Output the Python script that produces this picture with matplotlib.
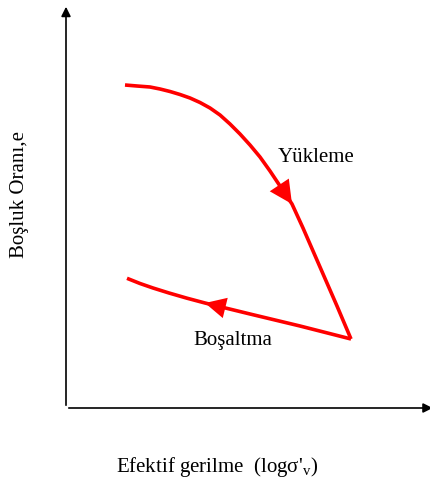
import matplotlib
matplotlib.use("Agg")
import matplotlib.pyplot as plt

plt.rcParams['font.family'] = ['Liberation Serif', 'DejaVu Serif']
plt.rcParams['mathtext.fontset'] = 'custom'
plt.rcParams['mathtext.rm'] = 'Liberation Serif'

# Yükleme (loading) curve: log stress vs void ratio (arbitrary units)
load_x = [0.59, 0.71, 0.84, 0.94, 1.04, 1.14, 1.24, 1.34, 1.44, 1.54, 1.64, 1.74, 1.84, 1.94,
          2.04, 2.14, 2.26, 2.37, 2.54, 2.71, 2.85]
load_e = [3.23, 3.22, 3.21, 3.19, 3.165, 3.135, 3.10, 3.055, 3.00, 2.93, 2.84, 2.74, 2.63, 2.51,
          2.37, 2.22, 2.04, 1.80, 1.41, 1.02, 0.69]

# Boşaltma (unloading) curve
unload_x = [2.85, 2.34, 1.84, 1.39, 1.21, 1.03, 0.87, 0.74, 0.61]
unload_e = [0.69, 0.82, 0.94, 1.05, 1.098, 1.15, 1.20, 1.245, 1.297]

labels = {"load": "Yükleme", "unload": "Boşaltma"}
xlabel = "Efektif gerilme  (logσ'$_\\mathrm{v}$)"
ylabel = "Boşluk Oranı,e"

fig = plt.figure(figsize=(4.30, 4.85), dpi=100)
ax = fig.add_axes([66 / 430, 76 / 485, 364 / 430, 404 / 485])
ax.set_xlim(0, 3.64)
ax.set_ylim(0, 4.04)
for s in ax.spines.values():
    s.set_visible(False)
ax.set_xticks([])
ax.set_yticks([])

# axes with arrow heads
ax.annotate('', xy=(0, 1.0), xytext=(0, 0), xycoords='axes fraction',
            arrowprops=dict(arrowstyle='-|>', color='black', lw=1.2, mutation_scale=14),
            annotation_clip=False)
ax.annotate('', xy=(1.015, 0), xytext=(0, 0), xycoords='axes fraction',
            arrowprops=dict(arrowstyle='-|>', color='black', lw=1.2, mutation_scale=14),
            annotation_clip=False)

red = '#ff0000'
ax.plot(load_x, load_e, color=red, lw=2.6, solid_capstyle='butt', solid_joinstyle='round')
ax.plot(unload_x, unload_e, color=red, lw=2.6, solid_capstyle='butt', solid_joinstyle='round')

# direction arrowheads
head = '-|>,head_length=0.5,head_width=0.25'
ax.annotate('', xy=(load_x[16], load_e[16]), xytext=(load_x[14], load_e[14]),
            arrowprops=dict(arrowstyle=head, color=red, lw=0, mutation_scale=33,
                            shrinkA=0, shrinkB=0))
ax.annotate('', xy=(unload_x[3], unload_e[3]), xytext=(unload_x[2], unload_e[2]),
            arrowprops=dict(arrowstyle=head, color=red, lw=0, mutation_scale=30,
                            shrinkA=0, shrinkB=0))

ax.text(2.50, 2.52, labels["load"], fontsize=15, ha='center', va='center')
ax.text(1.67, 0.69, labels["unload"], fontsize=15, ha='center', va='center')

fig.text(217 / 430, 1 - 467 / 485, xlabel, fontsize=15, ha='center', va='center')
fig.text(20 / 430, 1 - 195 / 485, ylabel, fontsize=15, ha='center', va='center', rotation=90)

fig.savefig('out.png', dpi=100)
